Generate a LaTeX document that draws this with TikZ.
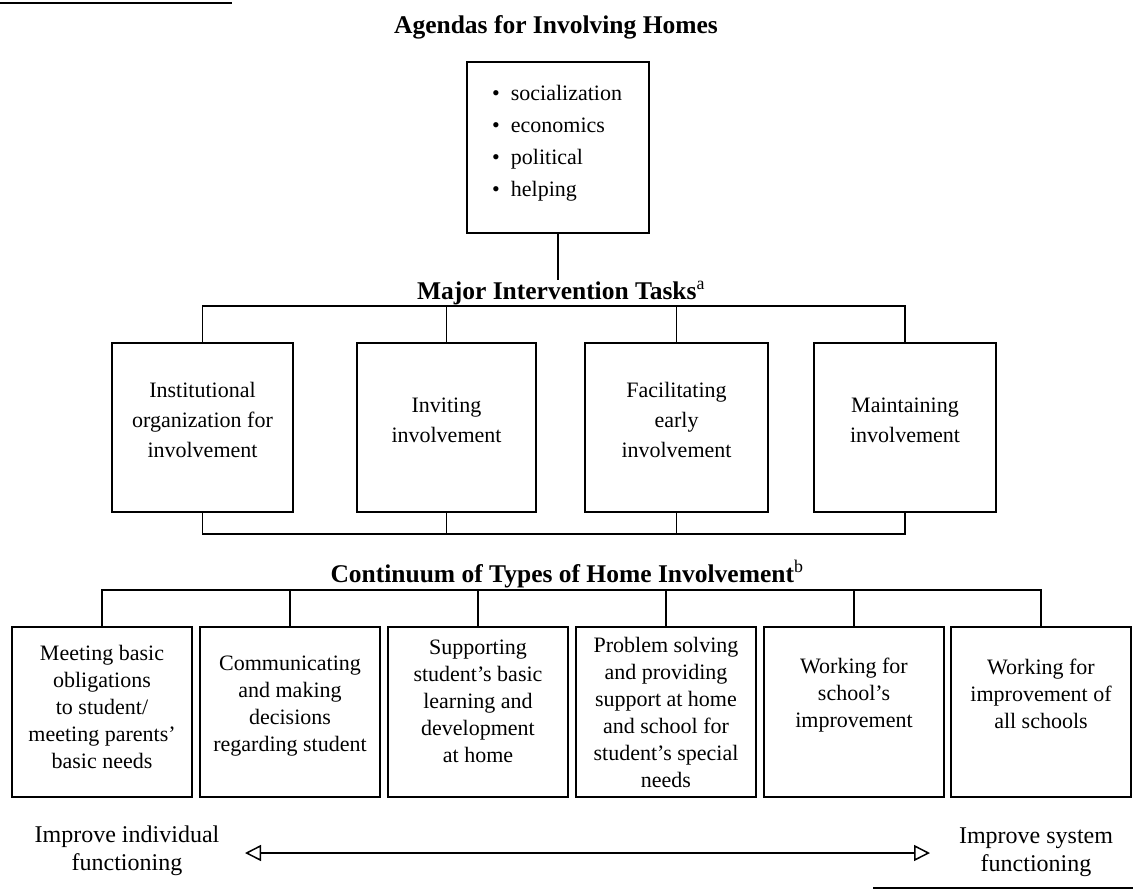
\documentclass[tikz,border=0pt]{standalone}
\usepackage{fontspec}
\setmainfont{Liberation Serif}
\usetikzlibrary{arrows.meta,calc}
\begin{document}
\begin{tikzpicture}[x=1pt,y=-1pt,
  mbox/.style={draw,line width=2.5pt,minimum width=181pt,minimum height=169pt,inner sep=0pt},
  lbox/.style={draw,line width=2.5pt,minimum width=180pt,minimum height=170pt,inner sep=0pt},
  conn/.style={line width=1.3pt},
  rule/.style={line width=1.5pt},
  head/.style={font=\fontsize{25.5}{30}\selectfont\bfseries,inner sep=1.5pt,anchor=base},
  mtxt/.style={font=\fontsize{22}{30}\selectfont,align=center,inner sep=0pt},
  btxt/.style={font=\fontsize{22}{27}\selectfont,align=center,inner sep=0pt},
  side/.style={font=\fontsize{24}{28}\selectfont,align=center,inner sep=0pt},
  dblarrow/.style={line width=1.5pt,{Triangle[open,length=16pt,width=16pt]}-{Triangle[open,length=16pt,width=16pt]}}
]
\fill[white] (0,0) rectangle (1133,892);
\useasboundingbox (0,0) rectangle (1133,892);

% page rules
\coordinate (r1a) at (0,3);
\coordinate (r1b) at (232,3);
\draw[rule] (r1a) -- (r1b);
\coordinate (r2a) at (873,888);
\coordinate (r2b) at (1133,888);
\draw[rule] (r2a) -- (r2b);

% title
\node[head] (title) at (556,33) {Agendas for Involving Homes};

% agenda box
\node[mbox,minimum width=182pt,minimum height=171pt] (agenda) at (558,147.5) {};
\node[font=\fontsize{22}{32}\selectfont,align=left,anchor=north west,inner sep=0pt] (alist) at (492,85)
  {\textbullet\ \ socialization\\ \textbullet\ \ economics\\ \textbullet\ \ political\\ \textbullet\ \ helping};

% major intervention tasks
\node[head] (major) at (561,299) {Major Intervention Tasks\textsuperscript{\normalfont a}};
\draw[conn] (agenda.south) -- (agenda.south |- major.north);

\node[mbox] (m1) at (202.5,427.5) {};
\node[mbox,minimum width=179pt] (m2) at (446.5,427.5) {};
\node[mbox,minimum width=183pt] (m3) at (676.5,427.5) {};
\node[mbox,minimum width=182pt] (m4) at (905,427.5) {};

\node[mtxt] (m1t) at (202.5,420) {Institutional\\organization for\\involvement};
\node[mtxt] (m2t) at (446.5,420) {Inviting\\involvement};
\node[mtxt] (m3t) at (676.5,420) {Facilitating\\early\\involvement};
\node[mtxt] (m4t) at (905,420) {Maintaining\\involvement};

\coordinate (tbar) at (0,306);
\draw[conn] (m1.north) -- (m1.north |- tbar) -- (m4.north |- tbar) -- (m4.north);
\draw[conn] (m2.north) -- (m2.north |- tbar);
\draw[conn] (m3.north) -- (m3.north |- tbar);

\coordinate (bbar) at (0,534);
\draw[conn] (m1.south) -- (m1.south |- bbar) -- (m4.south |- bbar) -- (m4.south);
\draw[conn] (m2.south) -- (m2.south |- bbar);
\draw[conn] (m3.south) -- (m3.south |- bbar);

% continuum
\node[head] (cont) at (567,582) {Continuum of Types of Home Involvement\textsuperscript{\normalfont b}};

\node[lbox] (b1) at (102,712) {};
\node[lbox] (b2) at (290,712) {};
\node[lbox] (b3) at (478,712) {};
\node[lbox] (b4) at (666,712) {};
\node[lbox] (b5) at (854,712) {};
\node[lbox] (b6) at (1041,712) {};

\node[btxt] (b1t) at (102,707) {Meeting basic\\obligations\\to student/\\meeting parents'\\basic needs};
\node[btxt] (b2t) at (290,706) {Communicating\\and making\\decisions\\regarding student};
\node[btxt] (b3t) at (478,701) {Supporting\\student's basic\\learning and\\development\\at home};
\node[btxt] (b4t) at (666,712) {Problem solving\\and providing\\support at home\\and school for\\student's special\\needs};
\node[btxt] (b5t) at (854,695) {Working for\\school's\\improvement};
\node[btxt] (b6t) at (1041,694) {Working for\\improvement of\\all schools};

\coordinate (cbar) at (0,590);
\draw[conn] (b1.north) -- (b1.north |- cbar) -- (b6.north |- cbar) -- (b6.north);
\foreach \b in {b2,b3,b4,b5}{\draw[conn] (\b.north) -- (\b.north |- cbar);}

% continuum arrow
\node[side] (indiv) at (127,851) {Improve individual\\functioning};
\node[side] (sys) at (1036,852) {Improve system\\functioning};
\coordinate (al) at (245,853);
\coordinate (ar) at (930,853);
\draw[dblarrow] (al) -- (ar);
\end{tikzpicture}
\end{document}
